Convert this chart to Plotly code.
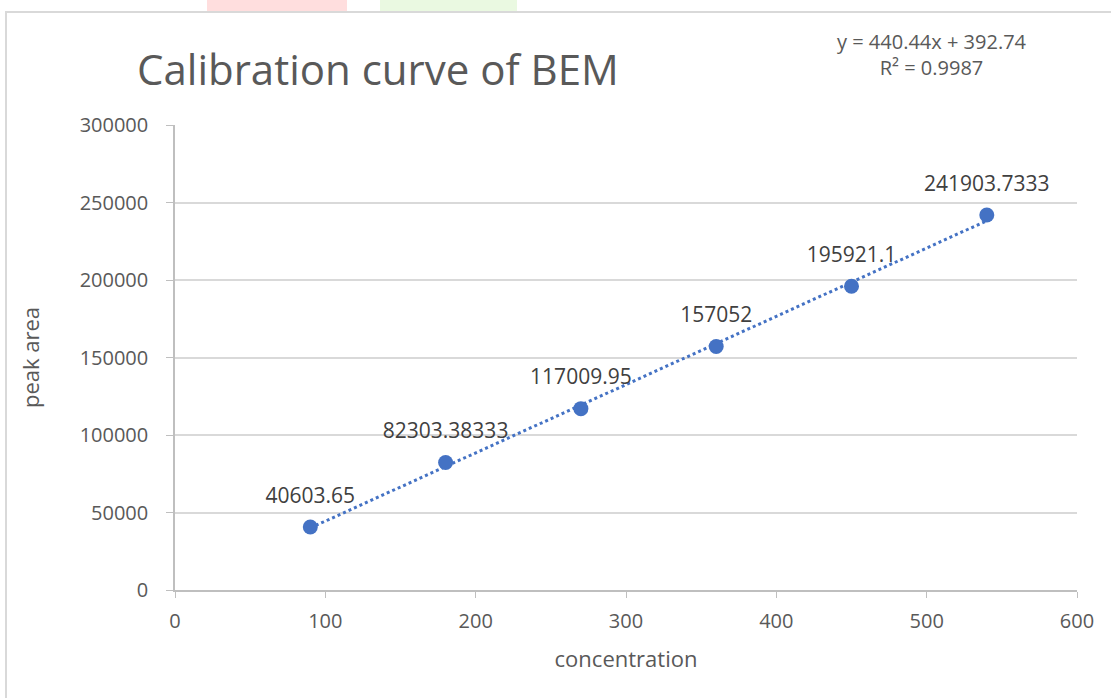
import numpy as np
import plotly.graph_objects as go

concentration = [90, 180, 270, 360, 450, 540]
peak_area = [40603.65, 82303.38333, 117009.95, 157052, 195921.1, 241903.7333]
point_labels = ["40603.65", "82303.38333", "117009.95", "157052", "195921.1", "241903.7333"]
x_ticks = [0, 100, 200, 300, 400, 500, 600]
y_ticks = [0, 50000, 100000, 150000, 200000, 250000, 300000]

slope, intercept = np.polyfit(concentration, peak_area, 1)
pred = np.polyval([slope, intercept], concentration)
r2 = 1 - np.sum((np.array(peak_area) - pred) ** 2) / np.sum((np.array(peak_area) - np.mean(peak_area)) ** 2)

FONT = "Open Sans"
TXT = "#595959"
BLUE = "#4472C4"

fig = go.Figure()
fig.add_trace(go.Scatter(
    x=[concentration[0], concentration[-1]],
    y=list(np.polyval([slope, intercept], [concentration[0], concentration[-1]])),
    mode="lines", line=dict(color=BLUE, width=3, dash="dot"),
    hoverinfo="skip", showlegend=False))
fig.add_trace(go.Scatter(
    x=concentration, y=peak_area, mode="markers",
    marker=dict(color=BLUE, size=15),
    showlegend=False))
# data labels (transparent larger marker gives the label offset)
fig.add_trace(go.Scatter(
    x=concentration, y=peak_area, mode="markers+text",
    marker=dict(color="rgba(0,0,0,0)", size=29),
    text=point_labels, textposition="top center",
    textfont=dict(family=FONT, size=21, color="#404040"),
    hoverinfo="skip", showlegend=False))

fig.update_layout(
    width=1111, height=698,
    margin=dict(l=175, r=34, t=125, b=108),
    paper_bgcolor="white", plot_bgcolor="white",
    font=dict(family=FONT, color=TXT),
    title=dict(text="Calibration curve of BEM", x=137/1111, xanchor="left",
               y=1-70/698, yanchor="middle",
               font=dict(family=FONT, size=42, color=TXT)),
    xaxis=dict(range=[0, 600], tickvals=x_ticks, showgrid=False,
               showline=True, linecolor="#BFBFBF", linewidth=1.5,
               ticks="outside", ticklen=6, tickcolor="#BFBFBF",
               tickfont=dict(family=FONT, size=20, color=TXT),
               ticklabelstandoff=6,
               title=dict(text="concentration", font=dict(family=FONT, size=22, color=TXT), standoff=19),
               zeroline=False),
    yaxis=dict(range=[0, 300000], tickvals=y_ticks, tickformat="d", showgrid=True, gridcolor="#D9D9D9",
               gridwidth=1.5, showline=True, linecolor="#BFBFBF", linewidth=1.5,
               ticks="outside", ticklen=7, tickcolor="#BFBFBF",
               tickfont=dict(family=FONT, size=20, color=TXT),
               ticklabelstandoff=14,
               title=dict(text="peak area", font=dict(family=FONT, size=22, color=TXT), standoff=34),
               zeroline=False),
)

fig.add_annotation(
    text=f"y = {slope:.2f}x + {intercept:.2f}<br>R² = {r2:.4f}",
    xref="paper", yref="paper", x=(932-175)/902, y=1 + (125-55)/465,
    xanchor="center", yanchor="middle",
    showarrow=False, align="center",
    font=dict(family=FONT, size=20, color=TXT))

# outer chart border
fig.add_shape(type="rect", xref="paper", yref="paper",
              x0=-169/902, x1=1.2, y0=-0.5, y1=1 + (125-12)/465,
              line=dict(color="#D9D9D9", width=2), fillcolor="rgba(0,0,0,0)", layer="below")
# faint watermark fragments at top
fig.add_shape(type="rect", xref="paper", yref="paper",
              x0=(207-175)/902, x1=(347-175)/902, y0=1 + (125-11)/465, y1=1 + 125/465,
              line=dict(width=0), fillcolor="rgba(255,200,200,0.6)", layer="below")
fig.add_shape(type="rect", xref="paper", yref="paper",
              x0=(380-175)/902, x1=(517-175)/902, y0=1 + (125-11)/465, y1=1 + 125/465,
              line=dict(width=0), fillcolor="rgba(220,245,205,0.6)", layer="below")

fig.write_html("out.html", config={"displayModeBar": False},
               post_script="document.body.style.margin='0px';")
